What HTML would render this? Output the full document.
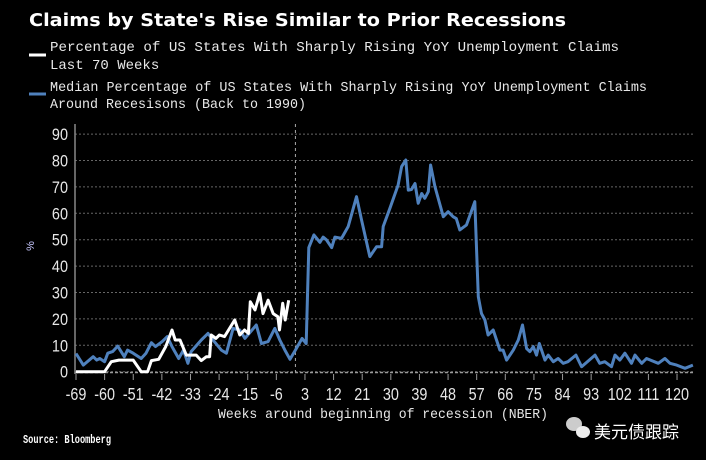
<!DOCTYPE html>
<html><head><meta charset="utf-8"><style>
html,body{margin:0;padding:0;background:#000;width:706px;height:460px;overflow:hidden}
svg{display:block}
</style></head><body>
<svg id="chart" width="706" height="460" xmlns="http://www.w3.org/2000/svg">
<rect width="706" height="460" fill="#000"/>
<text x="29" y="26" fill="#fff" font-family="'DejaVu Sans','Liberation Sans',sans-serif" font-weight="bold" font-size="18" textLength="537" lengthAdjust="spacingAndGlyphs">Claims by State's Rise Similar to Prior Recessions</text>
<g font-family="'Liberation Mono',monospace" font-size="14" fill="#e8e8e8">
<g>
<line x1="29" y1="55" x2="46" y2="55" stroke="#fff" stroke-width="3"/>
<text x="50" y="51" textLength="569" lengthAdjust="spacingAndGlyphs">Percentage of US States With Sharply Rising YoY Unemployment Claims</text>
<text x="50" y="69">Last 70 Weeks</text></g>
<g>
<line x1="29" y1="94" x2="46" y2="94" stroke="#4f81bd" stroke-width="3"/>
<text x="50" y="91" textLength="597" lengthAdjust="spacingAndGlyphs">Median Percentage of US States With Sharply Rising YoY Unemployment Claims</text>
<text x="50" y="108" textLength="256" lengthAdjust="spacingAndGlyphs">Around Recesisons (Back to 1990)</text></g>
</g>
<g id="grid"></g>
<g id="yaxis"></g>
<g id="xaxis"></g>
<text x="0" y="0" transform="translate(34,246) rotate(-90)" text-anchor="middle" fill="#c8c8ff" font-family="'Liberation Sans',sans-serif" font-size="11">%</text>
<text x="218" y="418" fill="#e8e8e8" font-family="'Liberation Mono',monospace" font-size="14" textLength="330" lengthAdjust="spacingAndGlyphs">Weeks around beginning of recession (NBER)</text>
<text x="23" y="443" fill="#fff" font-weight="bold" font-family="'Liberation Mono',monospace" font-size="12" textLength="88" lengthAdjust="spacingAndGlyphs">Source: Bloomberg</text>
<g>
<ellipse cx="574" cy="424" rx="8" ry="7" fill="#ccc"/><ellipse cx="583" cy="432" rx="7" ry="6" fill="#eee"/>
<text x="594" y="438" fill="#fff" font-family="'Noto Sans CJK SC',sans-serif" font-size="17">美元债跟踪</text></g>
<g id="series"></g>
</svg>
<script>
const blueWeeks=[-69,-66.7,-63.6,-62.5,-61.5,-60,-59,-57.5,-55.9,-53.8,-52.8,-51,-48.5,-47,-45.3,-44,-41.9,-40.3,-38.8,-36.7,-35.2,-33.8,-32.8,-29.6,-27.5,-25.5,-23.3,-21.7,-19.6,-17.5,-15.9,-12.3,-10.7,-8.6,-6.5,-4.9,-3.3,-1.7,0,2.1,3.4,4.2,5.8,7.7,8.7,9.7,11.4,12.4,14.5,16.6,19.2,20.8,23.4,25.5,27.1,27.6,29.7,32.3,33.4,34.7,35.5,36.5,37.6,38.6,39.7,40.7,41.8,42.5,43.9,46.5,48,49.6,50.6,51.7,53.8,54.9,56.4,57.5,58.5,59.6,60.6,62.2,64.3,65.3,66.4,68.5,70.1,71.4,72.7,73.7,74.8,75.8,76.7,78.5,79.5,81.1,82.6,84.2,85.7,88.2,90,94.2,95.7,97.3,99.4,100.5,102,103.6,105.7,106.8,108.9,110.4,114.1,116.2,117.8,119.9,122.5,125];
const blueValues=[6.9,2.5,5.7,4.4,5,3.8,7,7.6,9.7,5.7,8.2,7,5,7,11,9.5,11.4,13.3,9.5,5,8.2,3.2,7.6,12,14.5,11.4,8.2,7,16.4,15.8,12.6,17.7,10.7,11.4,16.4,12,8.2,4.7,8.2,12.6,10.7,47,51.8,49,51,50,47,51,50.5,55,66.3,57.4,43.6,47.3,47.3,55,61.9,70.7,77.7,80.2,68.8,69,71.3,63.8,67.5,65.7,68.2,78.3,70,58.7,60.6,58.7,58,53.7,55.6,59.3,64.4,28.4,22,19.6,13.9,15.8,8.2,8.2,4.4,8.2,12,17.7,8.8,7.6,9.5,6.3,10.7,4.4,6.3,3.8,5,3.2,3.8,6.3,1.9,6.3,3.2,3.8,1.9,6.3,4.4,7,3.2,6.3,3.2,5,3.2,5,3.2,2.5,1.3,2.5];
const whiteWeeks=[-69,-60,-57.9,-55.5,-51,-48.5,-46.5,-45.3,-43,-40.8,-38.8,-37.8,-36.3,-34.3,-31.2,-29.6,-28,-27,-26.5,-25,-23.9,-22.3,-19.1,-17.5,-16,-14.8,-14.2,-12.7,-11.2,-10.2,-8.6,-7,-5.5,-5,-4,-3.2,-2.1];
const whiteValues=[0,0,3.8,4.4,4.4,0,0,4.2,4.7,9.5,15.8,12,12,6.3,6.3,4.2,5.7,5.7,13.9,12.6,13.9,13.3,19.6,13.9,15.8,14.5,26.5,23.4,29.7,22,27.1,22,20.8,15.8,25.9,19.6,27.1];
const yTicks=[0,10,20,30,40,50,60,70,80,90];
const xTicks=[-69,-60,-51,-42,-33,-24,-15,-6,3,12,21,30,39,48,57,66,75,84,93,102,111,120];
const NS='http://www.w3.org/2000/svg';
const X0=76,W0=-69,PX=3.18,Y0=371.7,PY=2.64;
const xs=w=>X0+(w-W0)*PX, ys=v=>Y0-v*PY;
function mk(tag,attrs,parent){const e=document.createElementNS(NS,tag);for(const k in attrs)e.setAttribute(k,attrs[k]);parent.appendChild(e);return e;}
const grid=document.getElementById('grid'),ya=document.getElementById('yaxis'),xa=document.getElementById('xaxis'),ser=document.getElementById('series');
const FONT="'Liberation Sans Narrow','Liberation Sans',sans-serif";
yTicks.forEach(t=>{
 const g=mk('line',{x1:75,x2:695,y1:ys(t),y2:ys(t),stroke:'#666','stroke-dasharray':'2,2','stroke-width':1},grid);
 
 
 const l=mk('text',{transform:`translate(68,${ys(t)+6}) scale(0.85,1)`,'text-anchor':'end',fill:'#e8e8e8','font-family':FONT,'font-size':17},ya);
 l.textContent=t;
 
 
});
mk('line',{x1:75,x2:75,y1:124,y2:374,stroke:'#888','stroke-width':1.5},ya);
mk('line',{x1:75,x2:695,y1:372.5,y2:372.5,stroke:'#999','stroke-dasharray':'3,2','stroke-width':1.5},xa);
const zl=mk('line',{x1:xs(0),x2:xs(0),y1:124,y2:372,stroke:'#aaa','stroke-dasharray':'3,3','stroke-width':1},grid);


xTicks.forEach(t=>{
 mk('line',{x1:xs(t),x2:xs(t),y1:374,y2:380,stroke:'#999','stroke-width':1},xa);
 const l=mk('text',{transform:`translate(${xs(t)},400) scale(0.8,1)`,'text-anchor':'middle',fill:'#e8e8e8','font-family':FONT,'font-size':18},xa);
 l.textContent=t;
 
 
});
function path(wk,vals){return wk.map((w,i)=>(i?'L':'M')+xs(w).toFixed(1)+','+ys(vals[i]).toFixed(1)).join('');}
const bl=mk('path',{d:path(blueWeeks,blueValues),fill:'none',stroke:'#4f81bd','stroke-width':3,'stroke-linejoin':'round'},ser);


const wl=mk('path',{d:path(whiteWeeks,whiteValues),fill:'none',stroke:'#fff','stroke-width':3,'stroke-linejoin':'round'},ser);


</script>
</body></html>
